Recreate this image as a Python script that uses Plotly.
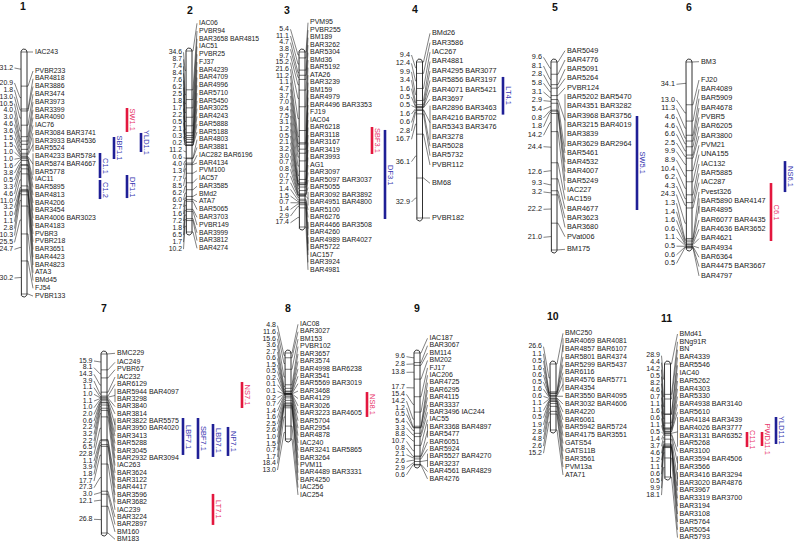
import math
import plotly.graph_objects as go

W, H = 795, 542

# ---------------- data: interval distances (cM), marker rows, markers-per-locus ----------------
chr1_dist = [31.2, 20.9, 1.8, 13.0, 10.5, 4.0, 3.0, 4.6, 3.6, 1.5, 1.5, 1.0, 1.0, 1.6, 3.8, 0.5,
             3.3, 4.6, 11.0, 3.2, 1.0, 1.1, 2.8, 10.3, 25.5, 24.7, 30.2]
chr1_markers = ["IAC243", "PVBR233", "BAR4818", "BAR3886", "BAR3474", "BAR3973", "BAR3399", "BAR4090",
                "IAC76", "BAR3084 BAR3741", "BAR3933 BAR4536", "BAR5524", "BAR4233 BAR5784",
                "BAR5874 BAR4667", "BAR5778", "IAC11", "BAR5895", "BAR4813", "BAR4206", "BAR3454",
                "BAR4006 BAR3023", "BAR4183", "PVBR3", "PVBR218", "BAR3651", "BAR4423", "BAR4823",
                "ATA3", "BMd45", "FJ54", "PVBR133"]
chr1_groups = [1, 1, 1, 1, 1, 1, 1, 1, 1, 1, 2, 3, 1, 1, 1, 1, 1, 1, 1, 1, 1, 1, 1, 1, 1, 1, 1, 1]

chr2_dist = [34.6, 8.7, 7.4, 8.4, 7.6, 6.2, 2.5, 1.8, 1.7, 2.2, 0.5, 2.1, 0.3, 0.2, 11.2, 0.6, 4.0,
             1.3, 7.7, 8.5, 6.2, 6.0, 2.7, 1.6, 7.2, 1.8, 6.5, 1.7, 10.2]
chr2_markers = ["IAC06", "PVBR94", "BAR3658 BAR4815", "IAC51", "PVBR25", "FJ37", "BAR4239", "BAR4709",
                "BAR4996", "BAR5710", "BAR5450", "BAR3025", "BAR4243", "BAR5888", "BAR5188", "BAR4803",
                "BAR3881", "IAC282 BAR6196", "BAR4134", "PVM100", "IAC57", "BAR3585", "BMd2", "ATA7",
                "BAR5065", "BAR3703", "PVBR149", "BAR3999", "BAR3812", "BAR4274"]
chr2_groups = [1] * 30

chr3_dist = [5.4, 11.1, 4.7, 3.8, 9.7, 15.2, 21.6, 11.2, 1.1, 4.7, 3.7, 7.0, 9.4, 7.5, 3.1, 1.2, 0.5,
             2.1, 3.2, 3.0, 0.7, 0.8, 0.7, 2.7, 1.4, 1.5, 0.7, 1.4, 2.9, 17.4]
chr3_markers = ["PVM95", "PVBR255", "BM189", "BAR3262", "BAR5304", "BMd36", "BAR5192", "ATA26", "BAR3239",
                "BM159", "BAR4979", "BAR4496 BAR3353", "FJ19", "IAC04", "BAR6218", "BAR3118", "BAR3167",
                "BAR3419", "BAR3993", "AG1", "BAR3097", "BAR5097 BAR3037", "BAR5055", "BAR3092 BAR3892",
                "BAR4951 BAR4800", "BAR5100", "BAR6276", "BAR4466 BAR3508", "BAR4260", "BAR4989 BAR4027",
                "BAR5722", "IAC157", "BAR3924", "BAR4981"]
chr3_groups = [1] * 23 + [2, 1, 1, 2, 2, 1, 1, 1]

chr4_dist = [9.4, 12.4, 9.9, 3.4, 1.6, 0.5, 0.5, 1.6, 0.6, 2.8, 16.7, 36.1, 32.9]
chr4_markers = ["BMd26", "BAR3586", "IAC267", "BAR4881", "BAR4295 BAR3077", "BAR5856 BAR3197",
                "BAR4071 BAR5421", "BAR3697", "BAR2896 BAR3463", "BAR4216 BAR5702", "BAR5343 BAR3476",
                "BAR3278", "BAR5028", "BAR5732", "PVBR112", "BM68", "PVBR182"]
chr4_groups = [1, 1, 1, 1, 1, 1, 1, 1, 4, 1, 1, 1, 1, 1]

chr5_dist = [9.6, 8.1, 2.8, 5.8, 3.1, 2.9, 5.4, 0.8, 1.8, 14.2, 24.4, 12.6, 9.3, 3.2, 22.2, 21.0]
chr5_markers = ["BAR5049", "BAR4776", "BAR5091", "BAR5264", "PVBR124", "BAR5202 BAR5470", "BAR4351 BAR3282",
                "BAR3968 BAR3756", "BAR3215 BAR4019", "BAR3839", "BAR3629 BAR2964", "BAR5461", "BAR4532",
                "BAR4007", "BAR5249", "IAC227", "IAC159", "BAR4677", "BAR3623", "BAR3680", "PVat006", "BM175"]
chr5_groups = [1, 1, 1, 1, 1, 6, 1, 1, 1, 1, 1, 1, 1, 1, 1, 1, 1]

chr6_dist = [34.1, 13.0, 11.3, 4.6, 4.6, 6.6, 2.5, 9.9, 8.9, 10.4, 6.2, 4.3, 24.3, 1.3, 1.4, 1.6, 0.6,
             1.1, 0.5, 0.6, 0.5]
chr6_markers = ["BM3", "FJ20", "BAR4089", "BAR5909", "BAR4678", "PVBR5", "BAR6205", "BAR3800", "PVM21",
                "UNA155", "IAC132", "BAR5885", "IAC287", "Pvest326", "BAR5890 BAR4147", "BAR4895",
                "BAR6077 BAR4435", "BAR4636 BAR3652", "BAR4621", "BAR4934", "BAR6364", "BAR4475 BAR3667",
                "BAR4797"]
chr6_groups = [1] * 14 + [2] + [1] * 7

chr7_dist = [15.9, 8.1, 14.3, 3.9, 1.1, 1.0, 1.1, 1.0, 2.0, 0.6, 2.2, 3.2, 2.2, 6.5, 22.8, 1.1, 3.9,
             1.8, 17.7, 27.3, 3.0, 12.1, 26.8]
chr7_markers = ["BMC229", "IAC249", "PVBR67", "IAC232", "BAR6129", "BAR5944 BAR4097", "BAR3298", "BAR3840",
                "BAR3814", "BAR3822 BAR5575", "BAR3950 BAR4020", "BAR3413", "BAR5288", "BAR3045",
                "BAR2932 BAR3094", "IAC263", "BAR3624", "BAR3122", "BAR4417", "BAR3596", "BAR3682",
                "IAC239", "BAR3224", "BAR2897", "BM160", "BM183"]
chr7_groups = [1, 1, 1, 1, 1, 2, 1, 1, 2] + [1] * 15

chr8_dist = [4.8, 11.6, 15.6, 3.6, 2.7, 0.6, 1.5, 0.5, 0.2, 0.1, 0.1, 0.2, 0.7, 1.4, 1.6, 2.5, 2.6,
             1.0, 1.5, 0.7, 1.7, 18.4, 13.0]
chr8_markers = ["IAC08", "BAR3027", "BM153", "PVBR102", "BAR3657", "BAR3574", "BAR4998 BAR6238", "BAR3541",
                "BAR5569 BAR3019", "BAR3468", "BAR4129", "BAR3026", "BAR3223 BAR4605", "BAR5704",
                "BAR2954", "BAR4878", "IAC240", "BAR3241 BAR5865", "BAR3264", "PVM11",
                "BAR4489 BAR3331", "BAR4250", "IAC256", "IAC254"]
chr8_groups = [1] * 24

chr9_dist = [9.6, 2.8, 13.8, 17.7, 15.4, 14.2, 1.2, 0.5, 5.4, 3.3, 8.8, 10.7, 0.8, 2.1, 2.6, 2.9, 0.6]
chr9_markers = ["IAC187", "BAR3067", "BM114", "BM202", "FJ17", "IAC206", "BAR4725", "BAR6295", "BAR4115",
                "BAR3337", "BAR3496 IAC244", "IAC55", "BAR3368 BAR4897", "BAR5477", "BAR6051", "BAR5924",
                "BAR5527 BAR4270", "BAR3237", "BAR4561 BAR4829", "BAR4276"]
chr9_groups = [1] * 12 + [2, 1, 1, 2, 1, 1]

chr10_dist = [26.6, 1.1, 0.5, 1.6, 0.6, 0.5, 1.6, 0.6, 1.1, 1.1, 0.5, 1.9, 2.8, 4.8, 2.6, 15.2]
chr10_markers = ["BMC250", "BAR4069 BAR4081", "BAR4857 BAR6107", "BAR5801 BAR4374", "BAR5299 BAR5437",
                 "BAR6116", "BAR4576 BAR5771", "BAR4354", "BAR3550 BAR4095", "BAR3032 BAR4606", "BAR4220",
                 "BAR6061", "BAR5942 BAR5724", "BAR4175 BAR3551", "GATS54", "GATS11B", "BAR3561",
                 "PVM13a", "ATA71"]
chr10_groups = [1, 2, 1, 1, 1, 2] + [1] * 11

chr11_dist = [28.9, 4.4, 14.2, 0.5, 8.2, 4.6, 0.7, 1.1, 1.6, 0.6, 1.1, 0.5, 1.4, 3.7, 4.6, 1.2, 1.1,
              0.6, 0.5, 9.9, 18.1]
chr11_markers = ["BMd41", "BNg91R", "BN", "BAR4339", "BAR5546", "IAC40", "BAR5262", "BAR4303", "BAR5330",
                 "BAR4938 BAR3140", "BAR5610", "BAR4184 BAR3439", "BAR4026 BAR3777", "BAR3131 BAR6352",
                 "BAR5268", "BAR3100", "BAR3594 BAR4506", "BAR3566", "BAR3416 BAR3294",
                 "BAR3020 BAR4876", "BAR3967", "BAR3319 BAR3700", "BAR3194", "BAR3108", "BAR5764",
                 "BAR5054", "BAR5793"]
chr11_groups = [1] * 11 + [4, 1, 2, 2] + [1] * 7

chrom_names = ["1", "2", "3", "4", "5", "6", "7", "8", "9", "10", "11"]
chrom_dist = [chr1_dist, chr2_dist, chr3_dist, chr4_dist, chr5_dist, chr6_dist,
              chr7_dist, chr8_dist, chr9_dist, chr10_dist, chr11_dist]
chrom_markers = [chr1_markers, chr2_markers, chr3_markers, chr4_markers, chr5_markers, chr6_markers,
                 chr7_markers, chr8_markers, chr9_markers, chr10_markers, chr11_markers]
chrom_groups = [chr1_groups, chr2_groups, chr3_groups, chr4_groups, chr5_groups, chr6_groups,
                chr7_groups, chr8_groups, chr9_groups, chr10_groups, chr11_groups]

# QTL intervals (chromosome, start cM, end cM, trait class)
qtl_names = ["SW1.1", "SBF1.1", "YLD1.1", "C1.1", "C1.2", "DF1.1", "SBF3.1", "DF3.1", "LT4.1", "SW5.1",
             "NS6.1", "C6.1", "LBF7.1", "SBF7.1", "LBD7.1", "NP7.1", "LT7.1", "NS7.1", "NS8.1",
             "YLD11.1", "PWD11.1", "C11.1"]
qtl_chrom = ["1", "1", "1", "1", "1", "1", "3", "3", "4", "5", "6", "6", "7", "7", "7", "7", "7", "7", "8",
             "11", "11", "11"]
qtl_start = [51.2, 77.7, 74.0, 92.3, 117.0, 112.4, 68.3, 71.0, 12.3, 42.3, 79.0, 96.5, 64.2, 64.2, 70.2,
             73.2, 140.4, 28.1, 39.3, 50.4, 64.7, 64.7]
qtl_end = [73.1, 97.8, 91.4, 115.2, 134.4, 133.5, 92.9, 152.1, 43.3, 115.9, 103.7, 142.7, 101.3, 105.3,
           103.3, 102.3, 171.5, 54.2, 64.4, 76.1, 78.0, 79.0]
qtl_class = ["r", "b", "b", "b", "b", "b", "r", "b", "b", "b", "b", "r", "b", "b", "b", "b", "r", "r", "r",
             "b", "r", "r"]

# ---------------- layout / style (page pixels) ----------------
GEOM = {
    "1": dict(title=(23, 6), bar=(21, 27, 52, 294), rx=35, rstep=7.76, rblocks=[(0, 52), (1, 71)],
              lx=13, lstep=6.93, lblocks=[(0, 68), (1, 83), (26, 278)], fs=6.9),
    "2": dict(title=(190, 10), bar=(186, 192, 51, 232), rx=199, rstep=7.76, rblocks=[(0, 23.3)],
              lx=182, lstep=7.03, lblocks=[(0, 52.3)], fs=6.8),
    "3": dict(title=(287, 10), bar=(299, 305, 52, 227), rx=310, rstep=7.49, rblocks=[(0, 22.7)],
              lx=289, lstep=6.67, lblocks=[(0, 29.3)], fs=7.0),
    "4": dict(title=(415, 9), bar=(416.5, 422.5, 62, 218), rx=432, rstep=9.41,
              rblocks=[(0, 33.3), (15, 183.3), (16, 218)],
              lx=410, lstep=8.43, lblocks=[(0, 55), (11, 161.7), (12, 202)], fs=7.3),
    "5": dict(title=(555, 7), bar=(551, 557, 62, 250), rx=567, rstep=9.3, rblocks=[(0, 50.7), (21, 249.3)],
              lx=542, lstep=8.67,
              lblocks=[(0, 57.3), (10, 146.7), (11, 171.7), (12, 183.3), (14, 209.3), (15, 237.3)], fs=7.3),
    "6": dict(title=(689, 7), bar=(686, 692, 62, 248), rx=701, rstep=9.33, rblocks=[(0, 61.7), (1, 80)],
              lx=675, lstep=8.6, lblocks=[(0, 84.3), (1, 100)], fs=7.3),
    "7": dict(title=(104, 308), bar=(101, 107, 354, 533), rx=117, rstep=7.375,
              rblocks=[(0, 353.3), (1, 362.3)],
              lx=92.5, lstep=6.67, lblocks=[(0, 361), (22, 519.3)], fs=7.0),
    "8": dict(title=(288, 308), bar=(285, 291, 353, 439), rx=300, rstep=7.42, rblocks=[(0, 324.3)],
              lx=276, lstep=6.56, lblocks=[(0, 325.7)], fs=7.0),
    "9": dict(title=(417, 308), bar=(414, 420, 353, 465), rx=429.5, rstep=7.4, rblocks=[(0, 338.3)],
              lx=405, lstep=6.7, lblocks=[(0, 356.7), (1, 364.3), (2, 372.3), (3, 387.7)], fs=7.0),
    "10": dict(title=(553, 316), bar=(550, 556, 364, 430), rx=565, rstep=7.87, rblocks=[(0, 333.3)],
               lx=542, lstep=7.1, lblocks=[(0, 346.7)], fs=7.0),
    "11": dict(title=(666, 318), bar=(664.5, 670.5, 364, 477), rx=679.5, rstep=7.83, rblocks=[(0, 334)],
               lx=660, lstep=6.97, lblocks=[(0, 355.7)], fs=7.1),
}
QTL_X = {"SW1.1": 127, "SBF1.1": 114, "YLD1.1": 141, "C1.1": 100, "C1.2": 100, "DF1.1": 127,
         "SBF3.1": 372, "DF3.1": 385, "LT4.1": 503, "SW5.1": 637, "NS6.1": 785, "C6.1": 771,
         "LBF7.1": 183, "SBF7.1": 198, "LBD7.1": 213, "NP7.1": 228, "LT7.1": 213, "NS7.1": 242,
         "NS8.1": 367, "YLD11.1": 776, "PWD11.1": 762, "C11.1": 747}
QTL_BAR = {"b": "#1f1f96", "r": "#e3173e"}
QTL_TXT = {"b": "#3434b0", "r": "#e8336b"}
FONT = "Arial, Liberation Sans, sans-serif"
INK = "#1a1a1a"
CAP = 3.0  # px


def block_positions(n, blocks, step):
    out = []
    for i in range(n):
        s, y0 = max(b for b in blocks if b[0] <= i)
        out.append(y0 + (i - s) * step)
    return out


fig = go.Figure()
layout_axes = {}
annotations = []
chrom_axis = {}

for k, name in enumerate(chrom_names):
    dist = chrom_dist[k]
    markers = chrom_markers[k]
    groups = chrom_groups[k]
    g = GEOM[name]
    xl, xr, ptop, pbot = g["bar"]
    total = sum(dist)
    scale = (pbot - ptop) / total
    ax = "y" if k == 0 else "y%d" % (k + 1)
    chrom_axis[name] = (ax, ptop, scale)
    axkey = "yaxis" if k == 0 else "yaxis%d" % (k + 1)
    ax_cfg = dict(range=[(H - ptop) / scale, (0 - ptop) / scale], visible=False, showgrid=False,
                  zeroline=False, fixedrange=True)
    if k > 0:
        ax_cfg["overlaying"] = "y"
    layout_axes[axkey] = ax_cfg

    def to_cm(p):
        return (p - ptop) / scale

    loci = [0.0]
    for d in dist:
        loci.append(loci[-1] + d)
    mids = [(loci[i] + loci[i + 1]) / 2 for i in range(len(dist))]

    # chromosome outline (rounded ends)
    cx, rxw = (xl + xr) / 2, (xr - xl) / 2
    ry = CAP / scale
    ox, oy = [xl], [0.0]
    ox.append(xl); oy.append(total)
    for j in range(13):
        t = math.pi * j / 12
        ox.append(cx - rxw * math.cos(t)); oy.append(total + ry * math.sin(t))
    ox.append(xr); oy.append(0.0)
    for j in range(13):
        t = math.pi * j / 12
        ox.append(cx + rxw * math.cos(t)); oy.append(-ry * math.sin(t))
    fig.add_trace(go.Scatter(x=ox, y=oy, mode="lines", yaxis=ax, line=dict(color=INK, width=0.9),
                             hoverinfo="skip"))

    # locus ticks inside the chromosome
    tx, ty = [], []
    for c in loci:
        tx += [xl, xr, None]
        ty += [c, c, None]
    fig.add_trace(go.Scatter(x=tx, y=ty, mode="lines", yaxis=ax, line=dict(color=INK, width=0.6),
                             hoverinfo="skip"))

    # right labels and their connectors
    rows_px = block_positions(len(markers), g["rblocks"], g["rstep"])
    rows = [to_cm(p) for p in rows_px]
    cxs, cys = [], []
    r = 0
    end_x = g["rx"] - 2.0
    for li, n in enumerate(groups):
        ys = rows[r:r + n]
        target = (ys[0] + ys[-1]) / 2
        cxs += [xr, xr + 1.0, end_x, None]
        cys += [loci[li], loci[li], target, None]
        if n > 1:
            pad = 3.0 / scale
            cxs += [end_x, end_x, None]
            cys += [ys[0] - pad, ys[-1] + pad, None]
        r += n
    # left interval numbers and their connectors
    nums_px = block_positions(len(dist), g["lblocks"], g["lstep"])
    nums = [to_cm(p) for p in nums_px]
    for i, m in enumerate(mids):
        cxs += [xl, xl - 1.0, g["lx"] + 1.5, None]
        cys += [m, m, nums[i], None]
    fig.add_trace(go.Scatter(x=cxs, y=cys, mode="lines", yaxis=ax, line=dict(color=INK, width=0.55),
                             hoverinfo="skip"))

    fig.add_trace(go.Scatter(x=[g["rx"]] * len(markers), y=rows, text=markers, mode="text",
                             textposition="middle right", yaxis=ax, cliponaxis=False,
                             textfont=dict(family=FONT, size=g["fs"], color=INK), hoverinfo="skip"))
    fig.add_trace(go.Scatter(x=[g["lx"]] * len(dist), y=nums, text=["%.1f" % d for d in dist],
                             mode="text", textposition="middle left", yaxis=ax, cliponaxis=False,
                             textfont=dict(family=FONT, size=g["fs"], color=INK), hoverinfo="skip"))

    tx_, ty_ = g["title"]
    annotations.append(dict(x=tx_, y=(H - ty_) / H, xref="x", yref="paper",
                            text="<b>%s</b>" % name, showarrow=False, xanchor="center", yanchor="middle",
                            font=dict(family=FONT, size=10.5, color="#111")))

# QTL bars
for i, q in enumerate(qtl_names):
    ax, ptop, scale = chrom_axis[qtl_chrom[i]]
    x = QTL_X[q]
    col = QTL_BAR[qtl_class[i]]
    fig.add_trace(go.Scatter(x=[x, x], y=[qtl_start[i], qtl_end[i]], mode="lines", yaxis=ax,
                             line=dict(color=col, width=2.6), hoverinfo="skip"))
    annotations.append(dict(x=x + 5.5, y=(qtl_start[i] + qtl_end[i]) / 2, xref="x", yref=ax,
                            text=q, textangle=90, showarrow=False, xanchor="center", yanchor="middle",
                            font=dict(family=FONT, size=7.5, color=QTL_TXT[qtl_class[i]])))

fig.update_layout(
    width=W, height=H, margin=dict(l=0, r=0, t=0, b=0),
    paper_bgcolor="white", plot_bgcolor="white", showlegend=False, hovermode=False,
    xaxis=dict(range=[0, W], visible=False, showgrid=False, zeroline=False, fixedrange=True),
    annotations=annotations,
    **layout_axes,
)
fig.write_html("out.html", config={"displayModeBar": False, "staticPlot": True},
               post_script="document.body.style.margin='0px';"
                           "document.documentElement.style.overflow='hidden';")
